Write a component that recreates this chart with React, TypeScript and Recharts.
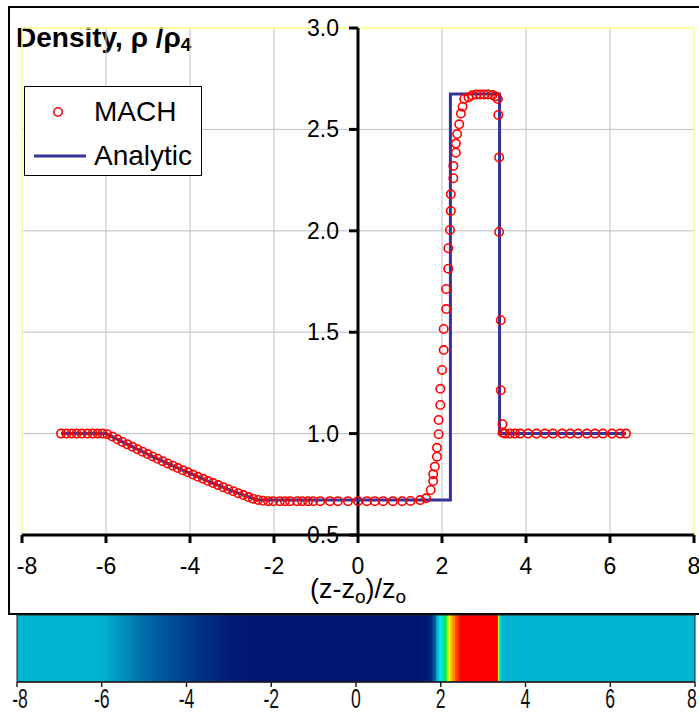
import React from "react";
import {
  ScatterChart,
  Scatter,
  XAxis,
  YAxis,
  ReferenceLine,
  ReferenceDot,
  ReferenceArea,
} from "recharts";

// MACH simulation, density rho/rho4 against (z-zo)/zo
const MACH_X = [
  -7.07, -6.94, -6.82, -6.7, -6.58, -6.44, -6.32, -6.2, -6.08, -5.97,
  -5.85, -5.73, -5.61, -5.49, -5.37, -5.25, -5.13, -5.01, -4.89, -4.77,
  -4.65, -4.53, -4.41, -4.29, -4.17, -4.05, -3.93, -3.81, -3.69, -3.57,
  -3.45, -3.33, -3.21, -3.09, -2.97, -2.85, -2.73, -2.61, -2.5, -2.38,
  -2.26, -2.14, -2.02, -1.86, -1.74, -1.62, -1.45, -1.33, -1.19, -1.07,
  -0.9, -0.67, -0.48, -0.24, 0, 0.21, 0.4, 0.6, 0.83, 1.05,
  1.25, 1.48, 1.62, 1.73, 1.79, 1.79, 1.83, 1.88, 1.88, 1.92,
  1.92, 1.96, 1.96, 2.0, 2.04, 2.04, 2.1, 2.1, 2.15, 2.15,
  2.19, 2.21, 2.21, 2.27, 2.27, 2.33, 2.33, 2.36, 2.41, 2.45,
  2.49, 2.53, 2.63, 2.72, 2.82, 2.91, 3.01, 3.1, 3.2, 3.27,
  3.33, 3.34, 3.36, 3.36, 3.4, 3.4, 3.44, 3.44, 3.5, 3.62,
  3.74, 3.86, 4.05, 4.25, 4.45, 4.64, 4.86, 5.05, 5.24, 5.45,
  5.64, 5.83, 6.05, 6.24, 6.38,
];
const MACH_Y = [
  1.0, 1.0, 1.0, 1.0, 1.0, 1.0, 1.0, 1.0, 1.0, 0.997,
  0.986, 0.972, 0.959, 0.947, 0.935, 0.923, 0.911, 0.899, 0.887, 0.876,
  0.864, 0.853, 0.842, 0.83, 0.819, 0.809, 0.798, 0.787, 0.777, 0.766,
  0.756, 0.746, 0.736, 0.726, 0.716, 0.706, 0.697, 0.687, 0.679, 0.673,
  0.669, 0.667, 0.667, 0.667, 0.667, 0.667, 0.667, 0.667, 0.667, 0.667,
  0.667, 0.667, 0.667, 0.667, 0.667, 0.667, 0.667, 0.667, 0.667, 0.667,
  0.668, 0.672, 0.681, 0.722, 0.766, 0.8, 0.837, 0.886, 0.93, 0.997,
  1.067, 1.141, 1.221, 1.314, 1.412, 1.516, 1.614, 1.713, 1.813, 1.914,
  2.004, 2.098, 2.18, 2.259, 2.32, 2.385, 2.43, 2.477, 2.525, 2.578,
  2.612, 2.65, 2.658, 2.668, 2.672, 2.672, 2.672, 2.672, 2.67, 2.663,
  2.65, 2.571, 2.362, 1.994, 1.559, 1.214, 1.046, 1.004, 1.0, 1.0,
  1.0, 1.0, 1.0, 1.0, 1.0, 1.0, 1.0, 1.0, 1.0, 1.0,
  1.0, 1.0, 1.0, 1.0, 1.0,
];

// analytic solution
const ANALYTIC_X = [-7.07, -6.0, -5.5, -5.0, -4.5, -4.0, -3.5, -3.0, -2.4, 2.2, 2.2, 3.37, 3.37, 6.38];
const ANALYTIC_Y = [1.0, 1.0, 0.948, 0.898, 0.85, 0.804, 0.76, 0.718, 0.672, 0.672, 2.675, 2.675, 1.0, 1.0];

const X_TICKS = [-8, -6, -4, -2, 0, 2, 4, 6, 8];
const Y_TICKS = [0.5, 1.0, 1.5, 2.0, 2.5, 3.0];
const Y_TICK_LABELS = ["0.5", "1.0", "1.5", "2.0", "2.5", "3.0"];
const GRID_X = [-6, -4, -2, 2, 4, 6];
const GRID_Y = [1.0, 1.5, 2.0, 2.5];

// colour scale of the density strip
const CMAP_RHO = [0.67, 0.72, 0.8, 0.9, 1.0, 1.3, 1.7, 2.1, 2.4, 2.6];
const CMAP_COLOR = ["#001473", "#001e78", "#003c8c", "#006eaa", "#00b4d2", "#00e6ff", "#00e650", "#ffff00", "#ff7800", "#ff0000"];

const FONT = '"Liberation Sans", Arial, sans-serif';
const BLUE = "#333399";
const RED = "#ff0000";

const mach = MACH_X.map((x, i) => ({ x, y: MACH_Y[i] }));
const analytic = ANALYTIC_X.map((x, i) => ({ x, y: ANALYTIC_Y[i] }));

function hexToRgb(h: string) {
  const n = parseInt(h.slice(1), 16);
  return [(n >> 16) & 255, (n >> 8) & 255, n & 255];
}

function rhoColor(r: number) {
  if (r <= CMAP_RHO[0]) return CMAP_COLOR[0];
  for (let i = 1; i < CMAP_RHO.length; i++) {
    if (r <= CMAP_RHO[i]) {
      const t = (r - CMAP_RHO[i - 1]) / (CMAP_RHO[i] - CMAP_RHO[i - 1]);
      const a = hexToRgb(CMAP_COLOR[i - 1]);
      const b = hexToRgb(CMAP_COLOR[i]);
      const c = a.map((v, k) => Math.round(v + (b[k] - v) * t));
      return `rgb(${c[0]},${c[1]},${c[2]})`;
    }
  }
  return CMAP_COLOR[CMAP_COLOR.length - 1];
}

const Circle = (p: any) => (
  <circle cx={p.cx} cy={p.cy} r={4.2} fill="none" stroke={RED} strokeWidth={1.6} />
);

const XTick = (p: any) => {
  const v = p.payload.value;
  return (
    <text x={p.x + (v === -8 ? 5 : 0)} y={p.y + 29} textAnchor="middle" fontSize={23} fontFamily={FONT} fill="#000">
      {v}
    </text>
  );
};

const BarTick = (p: any) => {
  const v = p.payload.value;
  return (
    <g transform={`translate(${p.x + (v === -8 ? 3 : v === 8 ? -3 : 0)},${p.y + 19})`}>
      <text transform="scale(1.1,1.7)" textAnchor="middle" fontSize={16} fontFamily={FONT} fill="#111">
        {v}
      </text>
    </g>
  );
};

const LegendBox = () => (
  <svg width={179} height={91} style={{ display: "block" }}>
    <rect x={0.5} y={0.5} width={177} height={89} fill="#fff" stroke="#000" strokeWidth={1} />
    <circle cx={34} cy={26} r={4.2} fill="none" stroke={RED} strokeWidth={1.6} />
    <text x={70} y={35} fontSize={28} fontFamily={FONT}>MACH</text>
    <line x1={10} x2={62} y1={70} y2={70} stroke={BLUE} strokeWidth={3} />
    <text x={70} y={79} fontSize={28} fontFamily={FONT}>Analytic</text>
  </svg>
);

export default function App() {
  return (
    <div style={{ position: "absolute", left: 0, top: 0, width: 699, height: 715, overflow: "hidden", background: "#fff" }}>
      <div
        style={{
          position: "absolute",
          left: 8,
          top: 6,
          width: 740,
          height: 609,
          boxSizing: "border-box",
          border: "2px solid #000",
        }}
      />
      <div style={{ position: "absolute", left: 0, top: 0 }}>
        <ScatterChart width={699} height={612} margin={{ top: 28, right: 5, left: 22, bottom: 12 }}>
          <XAxis
            type="number"
            dataKey="x"
            domain={[-8, 8]}
            ticks={X_TICKS}
            height={65}
            axisLine={{ stroke: "#000", strokeWidth: 3 }}
            tickLine={{ stroke: "#000", strokeWidth: 3 }}
            tickSize={8}
            tick={<XTick />}
            label={{
              content: () => (
                <text x={358} y={598} textAnchor="middle" fontSize={27} fontFamily={FONT} fill="#000">
                  (z-z<tspan fontSize={19} dy={5}>o</tspan>
                  <tspan dy={-5}>)/z</tspan>
                  <tspan fontSize={19} dy={5}>o</tspan>
                </text>
              ),
            }}
          />
          <YAxis type="number" dataKey="y" domain={[0.5, 3]} hide />
          {GRID_X.map((v) => (
            <ReferenceLine key={`gx${v}`} x={v} stroke="#c0c0c0" strokeWidth={1} />
          ))}
          {GRID_Y.map((v) => (
            <ReferenceLine key={`gy${v}`} y={v} stroke="#c0c0c0" strokeWidth={1} />
          ))}
          <ReferenceLine y={3} stroke="#ffff80" strokeWidth={1.5} />
          <ReferenceLine x={-8} stroke="#ffff80" strokeWidth={1.5} />
          <ReferenceLine x={8} stroke="#ffff80" strokeWidth={1.5} />
          <ReferenceLine x={0} stroke="#000" strokeWidth={3} />
          {Y_TICKS.map((v, i) => (
            <ReferenceDot
              key={`yt${v}`}
              x={0}
              y={v}
              r={0}
              ifOverflow="visible"
              shape={(p: any) => (
                <g>
                  <line x1={p.cx - 9} x2={p.cx} y1={p.cy} y2={p.cy} stroke="#000" strokeWidth={3} />
                  <text x={p.cx - 19} y={p.cy + 8} textAnchor="end" fontSize={23} fontFamily={FONT} fill="#000">
                    {Y_TICK_LABELS[i]}
                  </text>
                </g>
              )}
            />
          ))}
          <Scatter
            name="Analytic"
            data={analytic}
            line={{ stroke: BLUE, strokeWidth: 3 }}
            shape={() => <g />}
            isAnimationActive={false}
          />
          <Scatter name="MACH" data={mach} shape={<Circle />} isAnimationActive={false} />
          <text x={16} y={47} fontSize={28} fontWeight="bold" fontFamily={FONT} fill="#000">
            Density, ρ /ρ<tspan fontSize={19} dy={4}>4</tspan>
          </text>
        </ScatterChart>
      </div>
      <div style={{ position: "absolute", left: 24, top: 86 }}>
        <LegendBox />
      </div>
      <div style={{ position: "absolute", left: 0, top: 600 }}>
        <ScatterChart width={699} height={115} margin={{ top: 15, right: 4, left: 17, bottom: 0 }}>
          <defs>
            <linearGradient id="rhoStrip" x1="0" y1="0" x2="1" y2="0">
              <stop offset="0" stopColor={rhoColor(MACH_Y[0])} />
              {mach.map((d, i) => (
                <stop key={i} offset={(d.x + 8) / 16} stopColor={rhoColor(d.y)} />
              ))}
              <stop offset="1" stopColor={rhoColor(MACH_Y[MACH_Y.length - 1])} />
            </linearGradient>
          </defs>
          <XAxis
            type="number"
            dataKey="x"
            domain={[-8, 8]}
            ticks={X_TICKS}
            height={33}
            axisLine={{ stroke: "#222", strokeWidth: 1.5 }}
            tickLine={{ stroke: "#222", strokeWidth: 1.5 }}
            tickSize={5}
            tick={<BarTick />}
          />
          <YAxis type="number" dataKey="y" domain={[0, 1]} hide />
          <ReferenceArea x1={-8} x2={8} y1={0} y2={1} fill="url(#rhoStrip)" fillOpacity={1} stroke="#222" strokeWidth={1} />
          <Scatter data={[{ x: -8, y: 0 }, { x: 8, y: 1 }]} shape={() => <g />} isAnimationActive={false} />
        </ScatterChart>
      </div>
    </div>
  );
}
